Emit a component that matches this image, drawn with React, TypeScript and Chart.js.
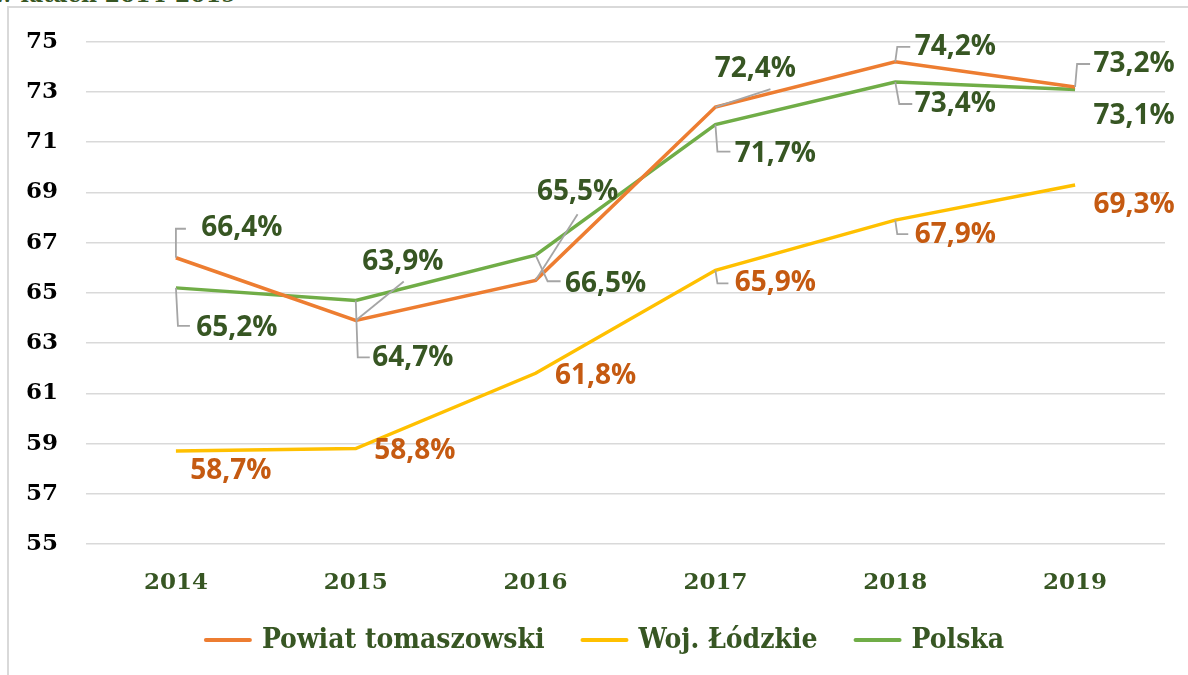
import { useEffect, useRef } from "react";
import { Chart, registerables } from "chart.js";

Chart.register(...registerables);

const years = ["2014", "2015", "2016", "2017", "2018", "2019"];
const powiat = [66.4, 63.9, 65.5, 72.4, 74.2, 73.2];
const wojewodztwo = [58.7, 58.8, 61.8, 65.9, 67.9, 69.3];
const polska = [65.2, 64.7, 66.5, 71.7, 73.4, 73.1];
const seriesNames = ["Powiat tomaszowski", "Woj. Łódzkie", "Polska"];
const seriesColors = ["#ed7d31", "#ffc000", "#70ad47"];
const yMin = 55;
const yMax = 75;
const yStep = 2;

type Place = { dx: number; dy: number; leader?: [number, number][] };

// label placement (offsets from the data point, in px)
const powiatPlaces: Place[] = [
  { dx: 66, dy: -30, leader: [[0, 0], [0, -29], [10, -29]] },
  { dx: 47, dy: -58, leader: [[0, 0], [48, -39]] },
  { dx: 42, dy: -88, leader: [[0, 0], [42, -66]] },
  { dx: 40, dy: -38, leader: [[0, 0], [55, -18]] },
  { dx: 60, dy: -15, leader: [[0, 0], [2, -15], [15, -15]] },
  { dx: 59, dy: -23, leader: [[0, 0], [2, -23], [15, -23]] },
];
const polskaPlaces: Place[] = [
  { dx: 61, dy: 40, leader: [[0, 0], [2, 38], [14, 38]] },
  { dx: 57, dy: 58, leader: [[0, 0], [2, 57], [14, 57]] },
  { dx: 70, dy: 29, leader: [[0, 0], [12, 26], [25, 26]] },
  { dx: 60, dy: 29, leader: [[0, 0], [2, 27], [15, 27]] },
  { dx: 60, dy: 22, leader: [[0, 0], [4, 22], [17, 22]] },
  { dx: 59, dy: 27 },
];
const wojPlaces: Place[] = [
  { dx: 55, dy: 20 },
  { dx: 59, dy: 2 },
  { dx: 60, dy: 3 },
  { dx: 60, dy: 13, leader: [[0, 0], [2, 13], [13, 13]] },
  { dx: 60, dy: 15, leader: [[0, 0], [2, 14], [13, 14]] },
  { dx: 59, dy: 20 },
];

const DARK_GREEN = "#375623";
const LABEL_BROWN = "#c55a11";
const LEGEND_FONT = "bold 28px 'DejaVu Serif Condensed', 'DejaVu Serif'";

const labelPlugin = {
  id: "customLabels",
  afterDatasetsDraw(chart: any) {
    const ctx = chart.ctx;
    const cfg = [
      { places: powiatPlaces, color: DARK_GREEN },
      { places: wojPlaces, color: LABEL_BROWN },
      { places: polskaPlaces, color: DARK_GREEN },
    ];
    ctx.save();
    chart.data.datasets.forEach((ds: any, i: number) => {
      const meta = chart.getDatasetMeta(i);
      meta.data.forEach((pt: any, j: number) => {
        const p = cfg[i].places[j];
        if (p.leader) {
          ctx.strokeStyle = "#a5a5a5";
          ctx.lineWidth = 1.8;
          ctx.beginPath();
          p.leader.forEach(([lx, ly], k) => {
            if (k === 0) ctx.moveTo(pt.x + lx, pt.y + ly);
            else ctx.lineTo(pt.x + lx, pt.y + ly);
          });
          ctx.stroke();
        }
        const v = ds.data[j] as number;
        const txt = v.toFixed(1).replace(".", ",") + "%";
        ctx.fillStyle = cfg[i].color;
        ctx.font = "bold 28px 'Open Sans'";
        ctx.textAlign = "center";
        ctx.textBaseline = "middle";
        ctx.fillText(txt, pt.x + p.dx, pt.y + p.dy);
      });
    });

    // legend
    ctx.font = LEGEND_FONT;
    ctx.textBaseline = "middle";
    ctx.textAlign = "left";
    const lineLen = 44;
    const gap = 12;
    const itemGap = 38;
    const widths = chart.data.datasets.map((d: any) => ctx.measureText(d.label).width);
    const total = widths.reduce((a: number, b: number) => a + b, 0) + 3 * (lineLen + gap) + 2 * itemGap;
    let x = 605 - total / 2;
    const y = 640;
    chart.data.datasets.forEach((d: any, i: number) => {
      ctx.strokeStyle = d.borderColor;
      ctx.lineWidth = 4;
      ctx.lineCap = "round";
      ctx.beginPath();
      ctx.moveTo(x, y);
      ctx.lineTo(x + lineLen, y);
      ctx.stroke();
      x += lineLen + gap;
      ctx.fillStyle = DARK_GREEN;
      ctx.fillText(d.label, x, y + 1);
      x += widths[i] + itemGap;
    });
    ctx.restore();
  },
};

export default function App() {
  const ref = useRef<HTMLCanvasElement>(null);
  useEffect(() => {
    document.body.style.margin = "0";
    const chart = new Chart(ref.current!, {
      type: "line",
      data: {
        labels: years,
        datasets: [powiat, wojewodztwo, polska].map((data, i) => ({
          label: seriesNames[i],
          data,
          borderColor: seriesColors[i],
          backgroundColor: seriesColors[i],
          borderWidth: 3.5,
          pointRadius: 0,
          tension: 0,
          fill: false,
        })),
      },
      options: {
        responsive: false,
        animation: false,
        layout: { padding: { left: 8, right: 23, top: 37, bottom: 0 } },
        scales: {
          x: {
            offset: true,
            grid: { display: false, drawTicks: false },
            border: { display: false },
            ticks: {
              color: DARK_GREEN,
              font: { family: "'DejaVu Serif'", weight: "bold", size: 23 },
              padding: 25,
            },
            afterFit(axis: any) {
              axis.height = 131;
            },
          },
          y: {
            min: yMin,
            max: yMax,
            grid: { color: "#d9d9d9", lineWidth: 1.5, drawTicks: false },
            border: { display: false },
            ticks: {
              stepSize: yStep,
              color: "#000",
              font: { family: "'DejaVu Serif'", weight: "bold", size: 23 },
              padding: 28,
            },
            afterFit(axis: any) {
              axis.width = 78;
            },
          },
        },
        plugins: {
          legend: { display: false },
          tooltip: { enabled: false },
        },
      },
      plugins: [labelPlugin],
    });
    return () => chart.destroy();
  }, []);
  return (
    <div style={{ position: "fixed", left: 0, top: 0, width: 1188, height: 675, background: "#fff", overflow: "hidden" }}>
      <div
        style={{
          position: "absolute",
          left: -6,
          top: -19,
          fontFamily: "'DejaVu Serif'",
          fontWeight: "bold",
          fontSize: 22,
          color: DARK_GREEN,
          whiteSpace: "nowrap",
        }}
      >
        w latach 2014-2019
      </div>
      <div
        style={{
          position: "absolute",
          left: 7,
          top: 6,
          width: 1200,
          height: 700,
          borderLeft: "2px solid #d9d9d9",
          borderTop: "2px solid #d9d9d9",
        }}
      />
      <canvas ref={ref} width={1188} height={675} style={{ position: "absolute", left: 0, top: 0 }} />
    </div>
  );
}
